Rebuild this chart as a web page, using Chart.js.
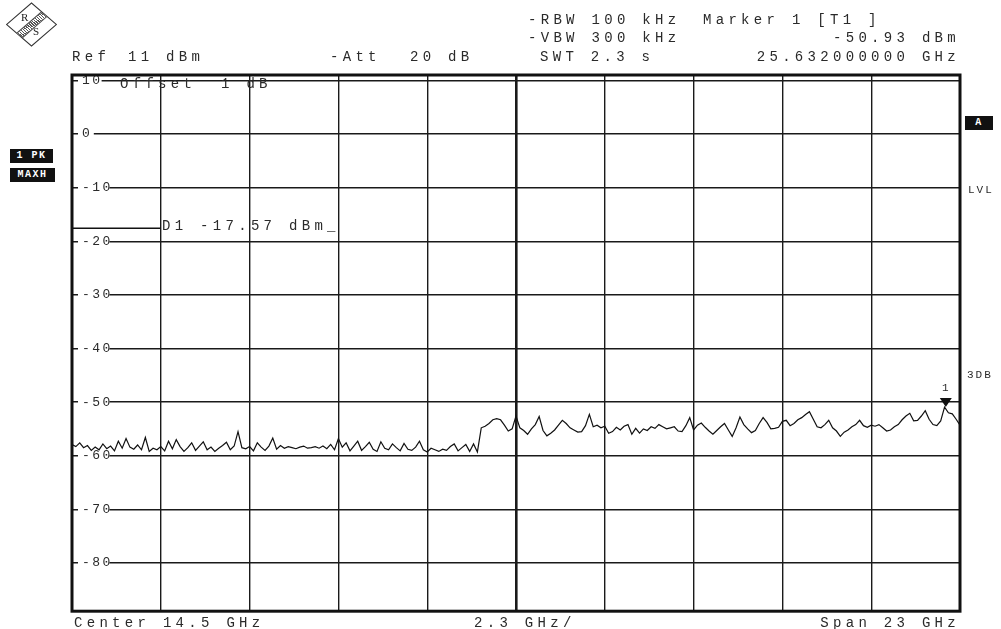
<!DOCTYPE html>
<html>
<head>
<meta charset="utf-8">
<script src="https://cdn.jsdelivr.net/npm/chart.js@4"></script>
<style>
  html, body { margin: 0; padding: 0; background: #fff; }
  #wrap { position: relative; width: 1001px; height: 629px; overflow: hidden; }
  #spectrum { position: absolute; left: 0; top: 0; }
  .t {
    position: absolute; font-family: 'Liberation Mono', 'DejaVu Sans Mono', monospace;
    font-size: 14px; letter-spacing: 4.3px; color: #2a2a2a; line-height: 14px;
    white-space: pre; transform: translateY(-50%);
  }
  .r { text-align: right; }
  .box {
    position: absolute; background: #111; color: #fff; font-family: 'Liberation Mono', monospace;
    font-size: 10px; font-weight: bold; letter-spacing: 1.5px; line-height: 14px; text-align: center;
  }
  #logo {
    position: absolute; left: 15px; top: 8px; width: 31px; height: 31px;
    border: 1.5px solid #333; transform: scale(1.1, 0.95) rotate(45deg);
  }
  #logo .band {
    position: absolute; left: 12px; top: 0; width: 6px; height: 31px;
    border-left: 1px solid #444; border-right: 1px solid #444;
    background: repeating-linear-gradient(0deg, #555 0 1px, #fff 1px 2px);
  }
  .lg { position: absolute; font-family: 'Liberation Serif', serif; font-size: 11px; color: #222; }
</style>
</head>
<body>
<div id="wrap">
  <canvas id="spectrum" width="1001" height="629"></canvas>

  <div id="logo"><div class="band"></div></div>
  <div class="lg" style="left:21px;top:11px">R</div>
  <div class="lg" style="left:33px;top:25px">S</div>

  <div class="t" style="left:72px;top:57px">Ref</div>
  <div class="t" style="left:128px;top:57px">11 dBm</div>
  <div class="t" style="left:330px;top:57px">-Att</div>
  <div class="t" style="left:410px;top:57px">20 dB</div>
  <div class="t" style="left:528px;top:20px">-RBW 100 kHz</div>
  <div class="t" style="left:703px;top:20px">Marker 1 [T1 ]</div>
  <div class="t" style="left:528px;top:38px">-VBW 300 kHz</div>
  <div class="t r" style="right:41px;top:38px">-50.93 dBm</div>
  <div class="t" style="left:540px;top:57px">SWT 2.3 s</div>
  <div class="t r" style="right:41px;top:57px">25.632000000 GHz</div>

  <div class="t" style="left:120px;top:84px">Offset</div>
  <div class="t" style="left:221px;top:84px">1 dB</div>
  <div class="t" style="left:162px;top:226px">D1 -17.57 dBm_</div>

  <div class="box" style="left:10px;top:149px;width:43px;height:14px">1 PK</div>
  <div class="box" style="left:10px;top:168px;width:45px;height:14px">MAXH</div>
  <div class="box" style="left:965px;top:116px;width:28px;height:14px">A</div>
  <div class="t" style="left:968px;top:190px;font-size:11px;letter-spacing:2px">LVL</div>
  <div class="t" style="left:967px;top:375px;font-size:11px;letter-spacing:2px">3DB</div>
  <div class="t" style="left:942px;top:388px;font-size:11px;letter-spacing:0">1</div>

  <div class="t" style="left:74px;top:623px">Center 14.5 GHz</div>
  <div class="t" style="left:474px;top:623px">2.3 GHz/</div>
  <div class="t r" style="right:41px;top:623px">Span 23 GHz</div>
</div>

<script>
// sweep settings (GHz) and level range (dBm)
const freqStart = 3
const freqSpan = 23
const gridFreqs = [3, 5.3, 7.6, 9.9, 12.2, 14.5, 16.8, 19.1, 21.4, 23.7, 26]
const levelTop = 11
const levelBottom = -89
const levelTicks = [10, 0, -10, -20, -30, -40, -50, -60, -70, -80]

// display line D1
const d1Level = -17.57
const d1End = 5.3

// marker 1
const markerFreq = 25.632
const markerLevel = -50.93

// trace 1 (max hold), one value per 0.1 GHz from 3 to 26 GHz
const traceLevels = [
  -57.9, -58.3, -57.6, -58.5, -58.1, -59.0, -58.4, -58.9, -57.8, -58.7,
  -58.2, -59.1, -57.3, -58.6, -56.8, -58.4, -58.8, -58.0, -58.9, -56.6,
  -59.2, -58.6, -58.9, -58.3, -59.1, -57.3, -58.7, -57.0, -58.3, -59.2,
  -58.5, -57.6, -59.0, -58.2, -57.4, -58.9, -58.4, -59.2, -58.6, -58.1,
  -57.5, -58.9, -58.2, -55.5, -58.5, -58.7, -58.3, -59.1, -57.6, -58.4,
  -59.0, -58.2, -56.7, -58.8, -58.1, -58.6, -58.3, -58.5, -58.7, -58.4,
  -58.2, -58.6, -58.5, -58.3, -58.6, -58.2, -58.7, -57.9, -58.9, -56.8,
  -58.4, -57.6, -59.1, -58.2, -57.3, -59.0, -58.3, -57.5, -58.8, -59.2,
  -57.4, -58.6, -58.9, -57.8, -58.5, -59.1, -57.7, -58.8, -59.0, -58.4,
  -57.3, -58.9, -59.3, -58.6, -58.9, -59.2, -58.8, -59.0, -58.3, -57.8,
  -59.1, -58.5, -57.9, -59.2, -57.8, -59.3, -54.8, -54.5, -54.0, -53.3,
  -53.1, -53.3, -54.3, -55.4, -55.0, -52.6, -54.8, -55.3, -56.0, -55.0,
  -54.2, -52.7, -55.3, -56.3, -55.8, -55.2, -54.3, -53.4, -54.0, -54.8,
  -55.2, -55.6, -55.5, -54.4, -52.3, -54.6, -54.3, -54.8, -54.5, -55.8,
  -55.5, -54.7, -55.2, -54.5, -54.2, -56.0, -54.9, -55.8, -55.0, -55.3,
  -54.6, -54.9, -54.2, -54.6, -55.0, -54.8, -54.6, -55.4, -55.5, -54.4,
  -52.9, -55.2, -54.3, -53.9, -54.7, -55.4, -56.0, -55.3, -54.6, -54.0,
  -55.2, -56.4, -54.8, -52.8, -54.2, -55.0, -55.7, -55.3, -54.0, -52.9,
  -53.8, -55.0, -54.9, -54.7, -53.6, -53.4, -54.4, -54.0, -53.3, -52.9,
  -52.3, -51.8, -53.2, -54.6, -54.8, -54.2, -53.4, -54.8, -55.4, -56.4,
  -55.6, -55.2, -54.6, -54.2, -53.4, -54.4, -54.7, -54.3, -54.5, -54.2,
  -54.8, -55.4, -55.2, -54.6, -54.2, -53.3, -52.6, -52.1, -53.5, -53.4,
  -52.6, -51.6, -53.2, -54.2, -54.4, -53.5, -50.93, -52.0, -52.2, -53.2,
  -54.3,
]

const tracePoints = traceLevels.map((v, i) => ({ x: freqStart + (i * freqSpan) / (traceLevels.length - 1), y: v }))

// wider letter spacing for the graticule labels
const spacingPlugin = {
  id: 'spacing',
  beforeDraw(chart) {
    chart.ctx.letterSpacing = '2.5px'
  },
}

// frame round the graticule
const framePlugin = {
  id: 'frame',
  afterDatasetsDraw(chart) {
    const { ctx, chartArea: a } = chart
    ctx.save()
    ctx.strokeStyle = '#111'
    ctx.lineWidth = 3
    ctx.strokeRect(a.left, a.top, a.right - a.left, a.bottom - a.top)
    ctx.restore()
  },
}

// marker triangle sitting on the trace peak
const markerPlugin = {
  id: 'marker',
  afterDatasetsDraw(chart) {
    const { ctx, scales } = chart
    const px = scales.x.getPixelForValue(markerFreq)
    const py = scales.y.getPixelForValue(markerLevel)
    ctx.save()
    ctx.fillStyle = '#111'
    ctx.beginPath()
    ctx.moveTo(px, py)
    ctx.lineTo(px - 6, py - 9)
    ctx.lineTo(px + 6, py - 9)
    ctx.closePath()
    ctx.fill()
    ctx.restore()
  },
}

const onPageLoad = () => {
  new Chart(document.getElementById('spectrum'), {
    type: 'line',
    data: {
      datasets: [
        {
          label: 'Trace 1',
          data: tracePoints,
          borderColor: '#111',
          borderWidth: 1.2,
          pointRadius: 0,
          tension: 0,
        },
        {
          label: 'D1',
          data: [{ x: freqStart, y: d1Level }, { x: d1End, y: d1Level }],
          borderColor: '#111',
          borderWidth: 1.5,
          pointRadius: 0,
        },
      ],
    },
    options: {
      responsive: false,
      animation: false,
      events: [],
      layout: { padding: { left: 72, top: 75, right: 41, bottom: 17 } },
      plugins: { legend: { display: false }, tooltip: { enabled: false } },
      scales: {
        x: {
          type: 'linear',
          min: freqStart,
          max: freqStart + freqSpan,
          afterBuildTicks: (s) => { s.ticks = gridFreqs.map((v) => ({ value: v })) },
          afterFit: (s) => { s.height = 0 },
          ticks: { display: false },
          border: { display: false },
          grid: {
            color: '#1a1a1a',
            lineWidth: (c) => (c.index === 5 ? 2.6 : 1.4),
            drawTicks: false,
          },
        },
        y: {
          min: levelBottom,
          max: levelTop,
          afterBuildTicks: (s) => { s.ticks = levelTicks.map((v) => ({ value: v })) },
          afterFit: (s) => { s.width = 0 },
          border: { display: false },
          grid: { color: '#1a1a1a', lineWidth: 1.4, drawTicks: false },
          ticks: {
            mirror: true,
            padding: 10,
            color: '#2a2a2a',
            font: { family: 'Liberation Mono', size: 13 },
            showLabelBackdrop: true,
            backdropColor: '#fff',
            backdropPadding: { x: 4, y: 0 },
          },
        },
      },
    },
    plugins: [spacingPlugin, framePlugin, markerPlugin],
  })
}

document.addEventListener('DOMContentLoaded', onPageLoad)
</script>
</body>
</html>
